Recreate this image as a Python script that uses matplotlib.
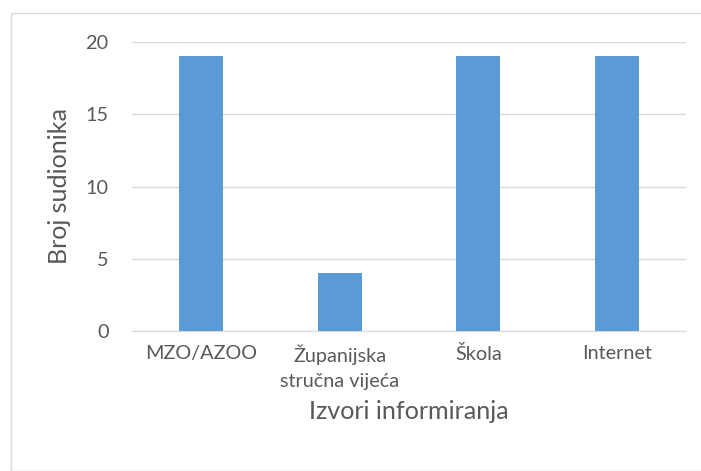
import matplotlib
matplotlib.use("Agg")
import matplotlib.pyplot as plt
from matplotlib.patches import Rectangle

categories = ["MZO/AZOO", "Županijska\nstručna vijeća", "Škola", "Internet"]
values = [19, 4, 19, 19]
yticks = [0, 5, 10, 15, 20]

plt.rcParams['font.family'] = ['Lato', 'DejaVu Sans']
txt = '#595959'

fig = plt.figure(figsize=(7.01, 4.71), dpi=100)
ax = fig.add_axes([132/701, 1-331/471, (686-132)/701, (331-42)/471])

x = list(range(len(categories)))
ax.bar(x, values, width=0.32, color='#5B9BD5', zorder=3)
ax.set_xlim(-0.5, len(categories)-0.5)
ax.set_ylim(0, 20)
ax.set_yticks(yticks)
ax.set_xticks(x)

# fit font sizes to the reference text widths
r = fig.canvas.get_renderer()
probe = fig.text(0, 0, categories[0], fontsize=12)
w = probe.get_window_extent(r).width
tick_fs = 12 * 112 / w
probe.set_text("Izvori informiranja")
w2 = probe.get_window_extent(r).width
title_fs = 12 * 200 / w2
probe.remove()

ax.set_xticklabels(categories, linespacing=1.55)
ax.grid(axis='y', color='#D9D9D9', linewidth=1, zorder=0)
for s in ['top', 'right', 'left']:
    ax.spines[s].set_visible(False)
ax.spines['bottom'].set_color('#D9D9D9')
ax.tick_params(axis='both', length=0, colors=txt, labelsize=tick_fs)
ax.tick_params(axis='x', pad=10)
ax.tick_params(axis='y', pad=17)
ax.set_xlabel("Izvori informiranja", fontsize=title_fs, color=txt, labelpad=7)
ax.set_ylabel("Broj sudionika", fontsize=title_fs, color=txt, labelpad=10)

fig.patches.append(Rectangle((11/701, 0), 1, 1-13/471, transform=fig.transFigure,
                             fill=False, edgecolor='#D9D9D9', linewidth=1))

fig.savefig("out.png", dpi=100)
